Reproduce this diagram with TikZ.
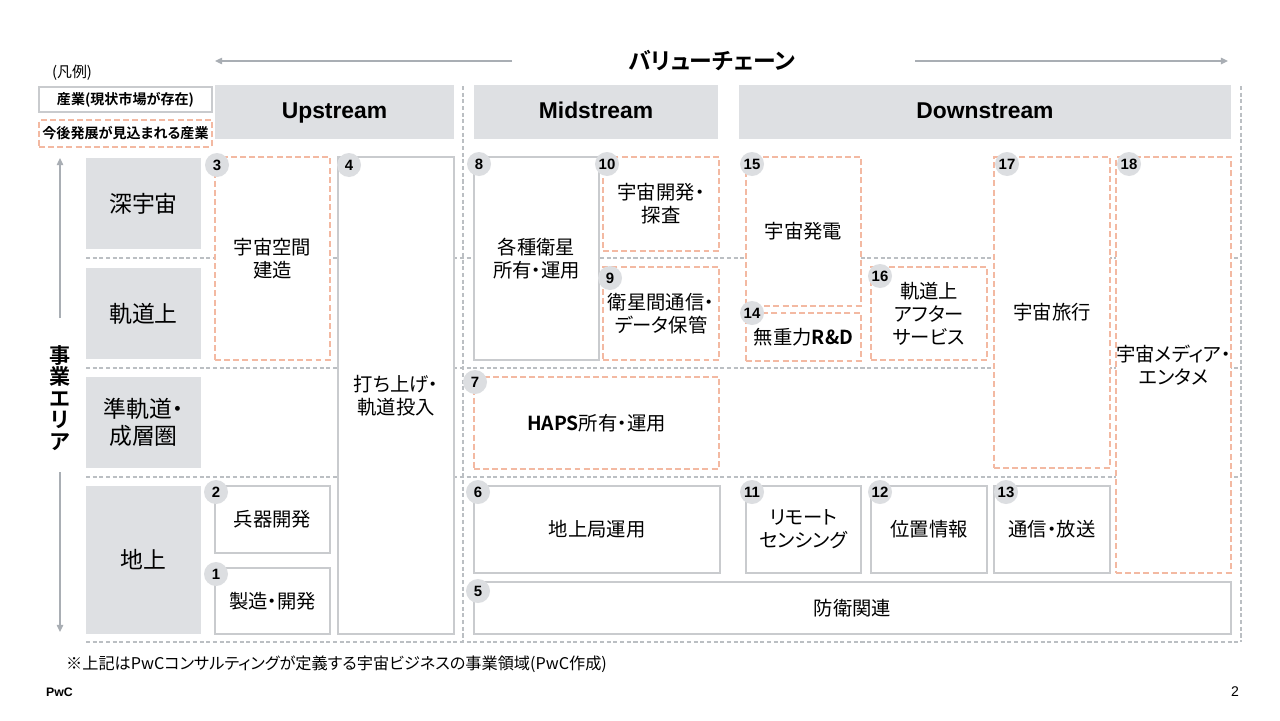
\documentclass[tikz,border=0pt]{standalone}
\usepackage{fontspec}
\setmainfont{Liberation Sans}
\newfontfamily\jp{Noto Sans CJK JP}[BoldFont={Noto Sans CJK JP Bold},RawFeature=+palt]
\usetikzlibrary{arrows.meta}

\definecolor{areagray}{HTML}{DEE0E3}
\definecolor{boxgray}{HTML}{C9CBCE}
\definecolor{numgray}{HTML}{DCDEE1}
\definecolor{neworange}{HTML}{F3B9A2}
\definecolor{gridgray}{HTML}{BBBFC3}
\definecolor{arrowgray}{HTML}{A9AEB4}

\newcommand\pxu{0.02cm}
% box from corner (x1,y1) to corner (x2,y2), in pixels
\newcommand\cellbox[7]{%
  \node[#2,minimum width={(#5-#3)*\pxu},minimum height={(#6-#4)*\pxu}]
    (#1) at ({(#3+#5)/2},{(#4+#6)/2}) {#7};}

\tikzset{
  area/.style={fill=areagray,inner sep=0pt,outer sep=0pt,align=center,
    font=\jp\fontsize{13}{15.5}\selectfont},
  header/.style={fill=areagray,inner sep=0pt,outer sep=0pt,text height=0.72em,text depth=0pt,
    font=\bfseries\fontsize{13}{15}\selectfont},
  biz/.style={draw=boxgray,line width=1.1pt,fill=white,inner sep=0pt,outer sep=0pt,
    align=center,font=\jp\fontsize{11}{13}\selectfont},
  newbiz/.style={biz,draw=neworange,dash pattern=on 3.4pt off 1.8pt},
  num/.style={circle,fill=numgray,inner sep=0pt,minimum size={24*\pxu},
    font=\bfseries\fontsize{8.5}{10}\selectfont},
  gridline/.style={draw=gridgray,line width=0.6pt,dash pattern=on 2.3pt off 1.5pt},
  axis/.style={draw=arrowgray,line width=0.8pt,-{Triangle[length=4pt,width=3.6pt]}},
}

\begin{document}
\begin{tikzpicture}[x=0.02cm,y=-0.02cm]
  \useasboundingbox[fill=white] (0,0) rectangle (1280,720);

% dashed grid
  \foreach \gy in {258,368,477,642}
    \draw[gridline] (86,\gy) -- (1241,\gy);
  \foreach \gx in {463,1241}
    \draw[gridline] (\gx,86) -- (\gx,642);

% value chain arrow
  \node[font=\jp\bfseries\fontsize{13}{15}\selectfont] (vc) at (712,61) {バリューチェーン};
  \coordinate (vcl) at (512,61);
  \coordinate (vclend) at (215,61);
  \coordinate (vcr) at (915,61);
  \coordinate (vcrend) at (1228,61);
  \draw[axis] (vcl) -- (vclend);
  \draw[axis] (vcr) -- (vcrend);

% business area arrow
  \node[align=center,font=\jp\bfseries\fontsize{12}{12.2}\selectfont] (ea) at (60,398)
    {事\\業\\エ\\リ\\ア};
  \coordinate (eat) at (60,318);
  \coordinate (eatend) at (60,158);
  \coordinate (eab) at (60,472);
  \coordinate (eabend) at (60,632);
  \draw[axis] (eat) -- (eatend);
  \draw[axis] (eab) -- (eabend);

% legend
  \node[font=\jp\fontsize{8.5}{10}\selectfont] (lg) at (72,73) {(凡例)};
  \cellbox{lgnow}{biz,line width=0.8pt,font=\jp\bfseries\fontsize{8}{10}\selectfont}{39}{87}{212}{112}{産業(現状市場が存在)}
  \cellbox{lgnew}{newbiz,line width=0.8pt,font=\jp\bfseries\fontsize{8}{10}\selectfont}{39}{120}{212}{147}{今後発展が見込まれる産業}

% stream headers
  \cellbox{up}{header}{215}{85}{454}{139}{Upstream}
  \cellbox{mid}{header}{474}{85}{718}{139}{Midstream}
  \cellbox{down}{header}{739}{85}{1231}{139}{Downstream}

% area labels
  \cellbox{deep}{area}{86}{158}{201}{249}{深宇宙}
  \cellbox{orbit}{area}{86}{268}{201}{359}{軌道上}
  \cellbox{sub}{area}{86}{377}{201}{468}{準軌道・\\成層圏}
  \cellbox{ground}{area}{86}{486}{201}{634}{地上}

% Upstream
  \cellbox{b3}{newbiz}{215}{157}{330}{360}{宇宙空間\\建造}
  \cellbox{b4}{biz}{338}{157}{454}{634}{打ち上げ・\\軌道投入}
  \cellbox{b2}{biz}{215}{486}{330}{553}{兵器開発}
  \cellbox{b1}{biz}{215}{568}{330}{634}{製造・開発}

% Midstream
  \cellbox{b8}{biz}{474}{157}{599}{360}{各種衛星\\所有・運用}
  \cellbox{b10}{newbiz}{603}{157}{719}{251}{宇宙開発・\\探査}
  \cellbox{b9}{newbiz}{603}{267}{719}{360}{衛星間通信・\\データ保管}
  \cellbox{b7}{newbiz}{474}{377}{719}{469}{{\bfseries HAPS}所有・運用}
  \cellbox{b6}{biz}{474}{486}{720}{573}{地上局運用}
  \cellbox{b5}{biz}{474}{582}{1231}{634}{防衛関連}

% Downstream
  \cellbox{b15}{newbiz}{746}{157}{861}{306}{宇宙発電}
  \cellbox{b14}{newbiz}{746}{313}{861}{361}{無重力{\bfseries R\&D}}
  \cellbox{b16}{newbiz}{871}{267}{987}{360}{軌道上\\アフター\\サービス}
  \cellbox{b17}{newbiz}{994}{157}{1110}{468}{宇宙旅行}
  \cellbox{b18}{newbiz}{1116}{157}{1231}{573}{宇宙メディア・\\エンタメ}
  \cellbox{b11}{biz}{746}{486}{861}{573}{リモート\\センシング}
  \cellbox{b12}{biz}{871}{486}{987}{573}{位置情報}
  \cellbox{b13}{biz}{994}{486}{1110}{573}{通信・放送}

% numbers
  \node[num] (n1) at (216,574) {1};
  \node[num] (n2) at (216,492) {2};
  \node[num] (n3) at (217,165) {3};
  \node[num] (n4) at (349,165) {4};
  \node[num] (n5) at (478,591) {5};
  \node[num] (n6) at (478,492) {6};
  \node[num] (n7) at (475,382) {7};
  \node[num] (n8) at (479,164) {8};
  \node[num] (n9) at (610,278) {9};
  \node[num] (n10) at (607,164) {10};
  \node[num] (n11) at (752,492) {11};
  \node[num] (n12) at (880,492) {12};
  \node[num] (n13) at (1006,492) {13};
  \node[num] (n14) at (752,313) {14};
  \node[num] (n15) at (752,164) {15};
  \node[num] (n16) at (880,276) {16};
  \node[num] (n17) at (1007,164) {17};
  \node[num] (n18) at (1129,164) {18};

% footer
  \node[anchor=west,font=\jp\fontsize{9.2}{11}\selectfont] (note) at (60,664)
    {※上記はPwCコンサルティングが定義する宇宙ビジネスの事業領域(PwC作成)};
  \node[anchor=west,font=\bfseries\fontsize{7}{8}\selectfont] (pwc) at (40,692) {PwC};
  \node[font=\fontsize{8}{9}\selectfont] (page) at (1235,692) {2};

\end{tikzpicture}
\end{document}
